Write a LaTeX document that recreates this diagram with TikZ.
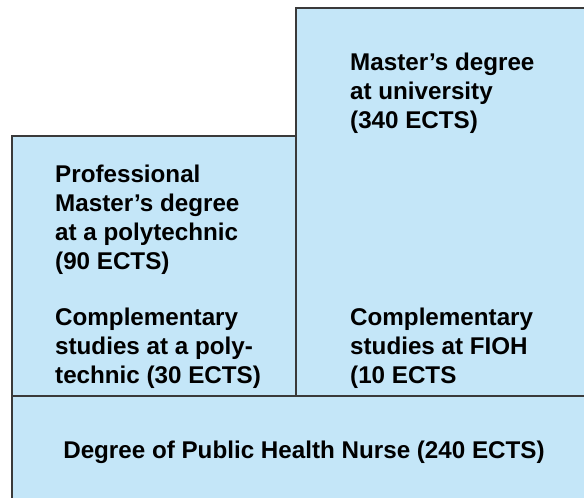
\documentclass[tikz,border=0pt]{standalone}
\usepackage{fontspec}
\setmainfont{Liberation Sans}
\definecolor{boxfill}{HTML}{C4E6F8}
\definecolor{boxline}{HTML}{3A3A3A}

\begin{document}
\begin{tikzpicture}[x=1pt,y=-1pt]

\tikzset{box/.style = {draw=boxline, fill=boxfill, line width=1.6pt}}
\tikzset{txt/.style = {anchor=north west, align=left, inner sep=0pt, font=\fontsize{24.2}{29}\selectfont\bfseries}}
\useasboundingbox (0,0) rectangle (584,498);
\clip (0,0) rectangle (584,498);
%boxes
\draw[box] (296,8) rectangle (610,396);
\draw[box] (12,136) rectangle (296,396);
\draw[box] (12,396) rectangle (610,520);
%text
\node[txt] (profmaster) at (55,165) {Professional\\Master’s degree\\at a polytechnic\\(90 ECTS)};
\node[txt] (compoly) at (55,308) {Complementary\\studies at a poly-\\technic (30 ECTS)};
\node[txt] (unimaster) at (350,53) {Master’s degree\\at university\\(340 ECTS)};
\node[txt] (compfioh) at (350,308) {Complementary\\studies at FIOH\\(10 ECTS};
\node[txt, anchor=center] (nurse) at (304,452) {Degree of Public Health Nurse (240 ECTS)};

\end{tikzpicture}
\end{document}
